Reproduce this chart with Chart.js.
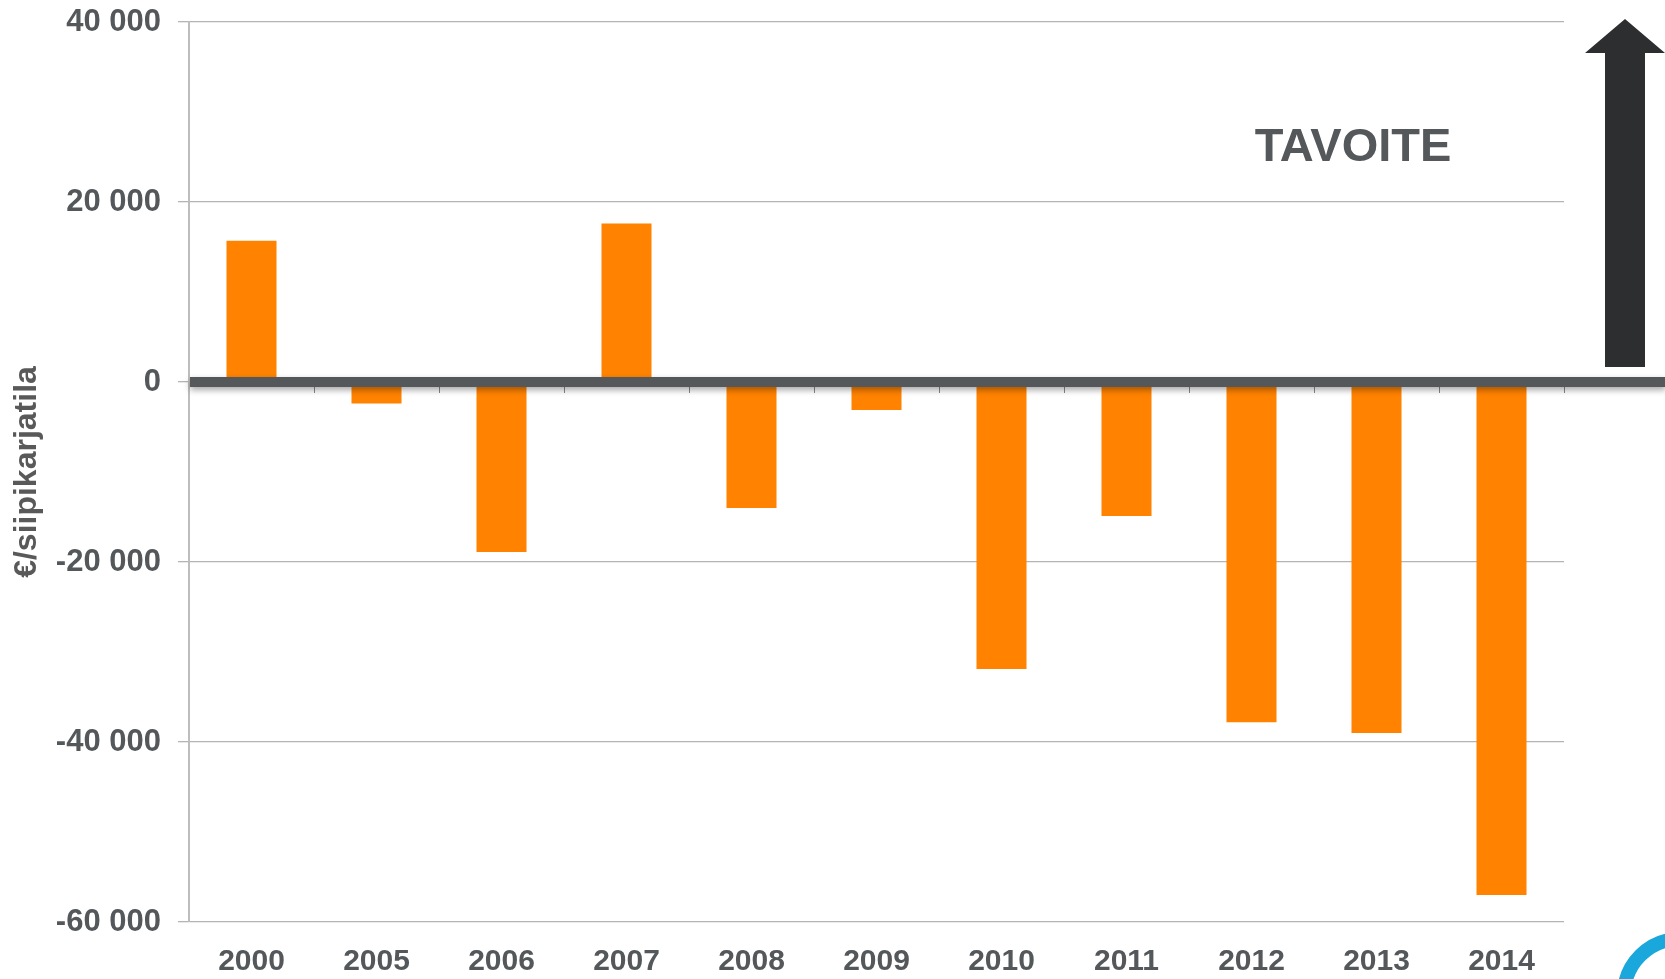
<!DOCTYPE html>
<html>
<head>
<meta charset="utf-8">
<script src="https://cdn.jsdelivr.net/npm/chart.js@4"></script>
<style>
  html, body { margin: 0; padding: 0; background: #fff; }
  #wrap { width: 1665px; height: 979px; position: relative; }
</style>
</head>
<body>
<div id="wrap"><canvas id="chart"></canvas></div>
<script>
const years = ["2000", "2005", "2006", "2007", "2008", "2009", "2010", "2011", "2012", "2013", "2014"];
const values = [15700, -2400, -18900, 17600, -14000, -3100, -31900, -14900, -37800, -39000, -57000];
const yTicks = [40000, 20000, 0, -20000, -40000, -60000];
const yTickLabels = ["40 000", "20 000", "0", "-20 000", "-40 000", "-60 000"];
const axisTitle = "€/siipikarjatila";
const targetText = "TAVOITE";

const textGray = "#54585a";
const font = "'Liberation Sans', Arial, sans-serif";

// zero line, arrow, label and the logo corner
const extras = {
  id: "extras",
  afterDatasetsDraw(chart) {
    const ctx = chart.ctx;
    const x = chart.scales.x, y = chart.scales.y;
    const y0 = y.getPixelForValue(0);
    const area = chart.chartArea;

    // small tick marks at category boundaries
    ctx.save();
    ctx.strokeStyle = "#8a8a8a";
    ctx.lineWidth = 1;
    for (let i = 0; i < years.length; i++) {
      const bx = i < years.length - 1
        ? (x.getPixelForTick(i) + x.getPixelForTick(i + 1)) / 2
        : area.right;
      ctx.beginPath();
      ctx.moveTo(Math.round(bx) + 0.5, y0);
      ctx.lineTo(Math.round(bx) + 0.5, y0 + 11);
      ctx.stroke();
    }
    ctx.restore();

    // thick zero line with a soft shadow
    ctx.save();
    ctx.shadowColor = "rgba(0,0,0,0.35)";
    ctx.shadowBlur = 6;
    ctx.shadowOffsetY = 3;
    ctx.fillStyle = "#54585a";
    ctx.fillRect(area.left + 1, y0 - 5, chart.width - area.left, 10);
    ctx.restore();
  },
  afterDraw(chart) {
    const ctx = chart.ctx;
    ctx.save();
    // arrow
    ctx.fillStyle = "#2d2e30";
    ctx.beginPath();
    ctx.moveTo(1605, 367);
    ctx.lineTo(1605, 53);
    ctx.lineTo(1585, 53);
    ctx.lineTo(1625, 19);
    ctx.lineTo(1665, 53);
    ctx.lineTo(1645, 53);
    ctx.lineTo(1645, 367);
    ctx.closePath();
    ctx.fill();

    // label
    ctx.fillStyle = textGray;
    ctx.font = "bold 47px " + font;
    ctx.textAlign = "center";
    ctx.textBaseline = "middle";
    ctx.fillText(targetText, 1353, 148);

    // blue logo fragment
    ctx.strokeStyle = "#1aa7dc";
    ctx.lineWidth = 14;
    ctx.beginPath();
    ctx.arc(1680, 995, 56, Math.PI, 1.5 * Math.PI);
    ctx.stroke();
    ctx.restore();
  }
};

new Chart(document.getElementById("chart"), {
  type: "bar",
  data: {
    labels: years,
    datasets: [{
      data: values,
      backgroundColor: "#ff8200",
      borderWidth: 0,
      barPercentage: 0.4,
      categoryPercentage: 1.0
    }]
  },
  options: {
    responsive: true,
    maintainAspectRatio: false,
    animation: false,
    events: [],
    layout: { padding: { top: 22, right: 101, left: 0, bottom: 0 } },
    plugins: { legend: { display: false }, tooltip: { enabled: false } },
    scales: {
      x: {
        grid: { display: false, drawTicks: false },
        border: { display: false },
        ticks: {
          color: textGray,
          padding: 22,
          maxRotation: 0,
          font: { family: font, size: 30, weight: "bold" }
        },
        afterFit: s => { s.height = 57; s.paddingLeft = 0; s.paddingRight = 0; }
      },
      y: {
        min: -60000,
        max: 40000,
        afterBuildTicks: s => { s.ticks = yTicks.map(v => ({ value: v })); },
        grid: { color: "#b4b4b4", lineWidth: 1.3, tickLength: 11 },
        border: { color: "#bdbdbd", width: 2 },
        ticks: {
          color: textGray,
          padding: 17,
          font: { family: font, size: 31, weight: "bold" },
          callback: v => yTickLabels[yTicks.indexOf(v)]
        },
        title: {
          display: true,
          text: axisTitle,
          color: "#595959",
          padding: { top: 8, bottom: 0 },
          font: { family: font, size: 32, weight: "bold" }
        },
        afterFit: s => { s.width = 189; s.paddingTop = 0; s.paddingBottom = 0; }
      }
    }
  },
  plugins: [extras]
});
</script>
</body>
</html>
